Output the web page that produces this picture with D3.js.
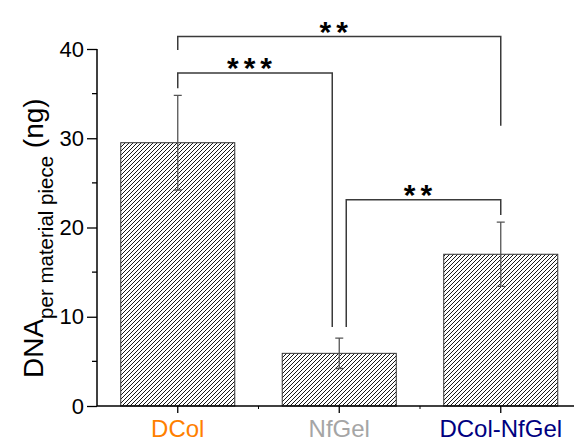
<head>
    <meta name="viewport" content="width=device-width, initial-scale=1">
    <style>
        body { margin: 0; background: #ffffff; }
        text { font-family: "Liberation Sans", Arial, sans-serif; }
    </style>
    <script src="https://cdn.jsdelivr.net/npm/d3@7"></script>
</head>
<body>
    <div id="chart"></div>
    <script>

        // values
        var groups = ["DCol", "NfGel", "DCol-NfGel"];
        var means = [29.5, 5.9, 17.0];
        var errs = [5.3, 1.7, 3.6];
        var labelColors = ["#ff7f00", "#a5a5a5", "#000080"];
        var yTicks = [0, 10, 20, 30, 40];

        // significance brackets: from, to, bracket height, leg ends, stars
        var sigFrom = ["DCol", "DCol", "NfGel"];
        var sigTo = ["NfGel", "DCol-NfGel", "DCol-NfGel"];
        var sigLevel = [37.3, 41.4, 23.1];
        var sigLeftEnd = [35.6, 39.9, 8.85];
        var sigRightEnd = [8.85, 31.4, 21.4];
        var sigStars = ["***", "**", "**"];

        var W = 574, H = 443;
        var margin = { left: 97, top: 49, bottom: 37 };

        var svg = d3.select("#chart").append("svg")
            .attr("width", W)
            .attr("height", H);

        var defs = svg.append("defs");
        defs.append("pattern")
            .attr("id", "hatch")
            .attr("patternUnits", "userSpaceOnUse")
            .attr("width", 4)
            .attr("height", 4)
            .append("path")
            .attr("d", "M-1,1 L1,-1 M0,4 L4,0 M3,5 L5,3")
            .attr("stroke", "#000")
            .attr("stroke-width", 0.9)
            .attr("shape-rendering", "crispEdges");

        var x = d3.scaleBand()
            .domain(groups)
            .range([margin.left, margin.left + 3 * 161.5])
            .paddingInner(0.294)
            .paddingOuter(0.147);

        var y = d3.scaleLinear()
            .domain([0, 40])
            .range([H - margin.bottom, margin.top]);

        var cx = d => x(d) + x.bandwidth() / 2;

        // bars
        svg.append("g")
            .selectAll("rect")
            .data(groups)
            .enter()
            .append("rect")
            .attr("x", d => x(d))
            .attr("y", (d, i) => y(means[i]))
            .attr("width", x.bandwidth())
            .attr("height", (d, i) => y(0) - y(means[i]))
            .attr("fill", "url(#hatch)")
            .attr("stroke", "#333")
            .attr("stroke-width", 1);

        // error bars
        var eb = svg.append("g")
            .attr("stroke", "#555")
            .attr("stroke-width", 1.3)
            .attr("fill", "none");

        groups.forEach(function(g, i) {
            var lo = y(means[i] - errs[i]), hi = y(means[i] + errs[i]);
            eb.append("path")
                .attr("d", "M" + cx(g) + "," + lo + "V" + hi +
                    "M" + (cx(g) - 4) + "," + hi + "H" + (cx(g) + 4) +
                    "M" + (cx(g) - 4) + "," + lo + "H" + (cx(g) + 4));
        });

        // y axis
        var yAx = svg.append("g")
            .attr("transform", "translate(" + margin.left + ",0)")
            .call(d3.axisLeft(y).tickValues(yTicks).tickSize(10).tickPadding(3));

        yAx.append("g")
            .selectAll("line")
            .data([5, 15, 25, 35])
            .enter()
            .append("line")
            .attr("x1", -5)
            .attr("x2", 0)
            .attr("y1", d => y(d))
            .attr("y2", d => y(d))
            .attr("stroke", "#000")
            .attr("stroke-width", 1.3);

        yAx.select(".domain").attr("d", "M0," + y(0) + "V" + y(40)).attr("stroke-width", 1.5);
        yAx.selectAll(".tick line").attr("stroke-width", 1.3);
        yAx.selectAll("text")
            .attr("font-size", 22)
            .attr("font-family", "Liberation Sans, Arial, sans-serif")
            .attr("fill", "#000");

        // x axis
        var xAx = svg.append("g")
            .attr("transform", "translate(0," + y(0) + ")")
            .call(d3.axisBottom(x).tickSize(7).tickPadding(7));

        xAx.select(".domain").attr("d", "M" + margin.left + ",0H" + W).attr("stroke-width", 1.5);
        xAx.selectAll(".tick line").attr("stroke-width", 1.3);
        xAx.selectAll("text")
            .attr("font-size", 24)
            .attr("font-family", "Liberation Sans, Arial, sans-serif")
            .attr("fill", (d, i) => labelColors[i]);

        xAx.append("g")
            .selectAll("line")
            .data([0, 1])
            .enter()
            .append("line")
            .attr("x1", i => (cx(groups[i]) + cx(groups[i + 1])) / 2)
            .attr("x2", i => (cx(groups[i]) + cx(groups[i + 1])) / 2)
            .attr("y1", 0)
            .attr("y2", 3)
            .attr("stroke", "#000")
            .attr("stroke-width", 1);

        // y label
        var yl = svg.append("text")
            .attr("transform", "translate(43,378) rotate(-90)")
            .attr("text-anchor", "start")
            .attr("font-size", 28)
            .attr("fill", "#000");
        yl.append("tspan").text("DNA");
        yl.append("tspan").attr("font-size", 20.5).attr("dy", 10).text("per material piece");
        yl.append("tspan").attr("dy", -10).text(" (ng)");

        // significance brackets
        var br = svg.append("g");

        sigFrom.forEach(function(f, i) {
            var x1 = cx(f), x2 = cx(sigTo[i]);
            if (f == "NfGel") x1 += 7;
            if (sigTo[i] == "NfGel") x2 -= 7;
            br.append("path")
                .attr("d", "M" + x1 + "," + y(sigLeftEnd[i]) +
                    "V" + y(sigLevel[i]) + "H" + x2 + "V" + y(sigRightEnd[i]))
                .attr("fill", "none")
                .attr("stroke", "#3a3a3a")
                .attr("stroke-width", 1.5);
            br.append("text")
                .attr("x", (x1 + x2) / 2 - 3)
                .attr("y", y(sigLevel[i]) + 5)
                .attr("text-anchor", "middle")
                .attr("font-size", 30)
                .attr("font-weight", "bold")
                .attr("letter-spacing", 5)
                .attr("fill", "#000")
                .text(sigStars[i]);
        });

    </script>
</body>
